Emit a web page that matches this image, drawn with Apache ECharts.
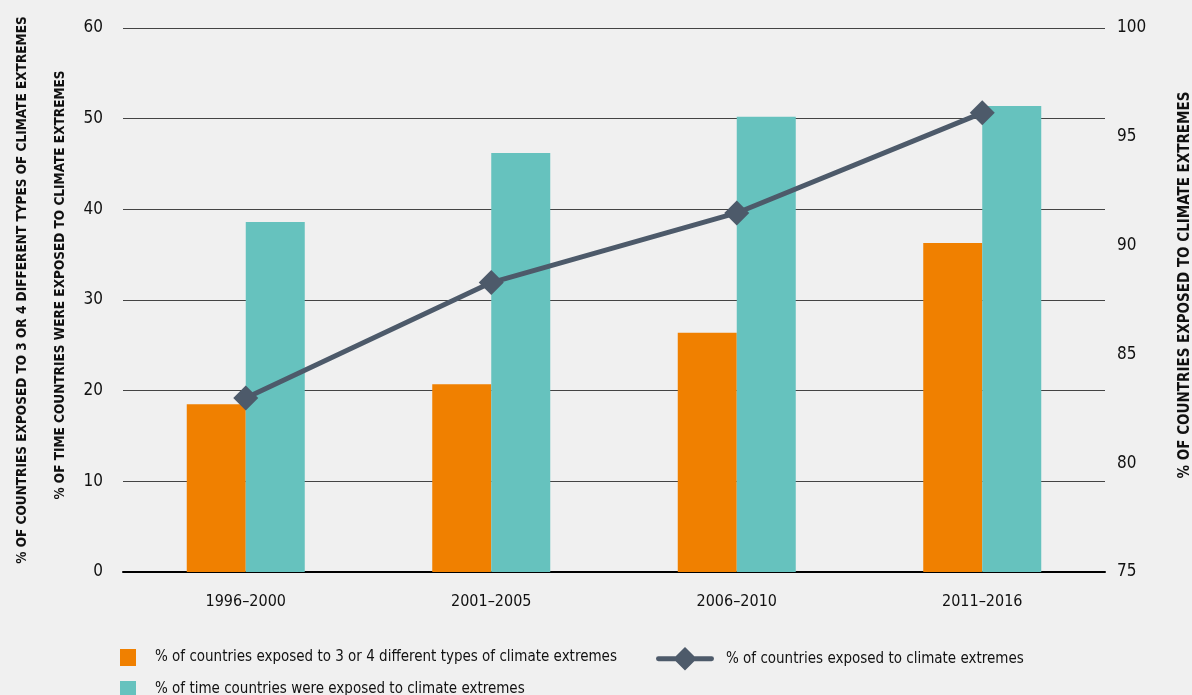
<!DOCTYPE html>
<html><head><meta charset="utf-8">
<script src="https://cdn.jsdelivr.net/npm/echarts@6/dist/echarts.min.js"></script>
<style>html,body{margin:0;padding:0;background:#f0f0f0}#c{width:1192px;height:695px}</style>
</head><body><div id="c"></div>
<script>
const categories = ['1996–2000','2001–2005','2006–2010','2011–2016'];
const threeOrFour = [18.5, 20.7, 26.4, 36.3];
const timeExposed = [38.6, 46.2, 50.2, 51.4];
const countriesExposed = [83.0, 88.3, 91.5, 96.1];
const leftTicks = {min:0, max:60, interval:10};
const rightTicks = {min:75, max:100, interval:5};
const names = ['% of countries exposed to 3 or 4 different types of climate extremes','% of time countries were exposed to climate extremes','% of countries exposed to climate extremes'];
const leftTitle1 = '% OF COUNTRIES EXPOSED TO 3 OR 4 DIFFERENT TYPES OF CLIMATE EXTREMES';
const leftTitle2 = '% OF TIME COUNTRIES WERE EXPOSED TO CLIMATE EXTREMES';
const rightTitle = '% OF COUNTRIES EXPOSED TO CLIMATE EXTREMES';
const FONT = "'Liberation Sans Narrow','DejaVu Sans Condensed','Roboto Condensed',sans-serif";
const lineIcon = 'path://M2,9.5 L56,9.5 A2.5,2.5 0 0 1 56,14.5 L2,14.5 A2.5,2.5 0 0 1 2,9.5 Z M29,0 L41,12 L29,24 L17,12 Z';
const legText = {fontFamily:FONT,fontSize:15,color:'#111'};
const chart = echarts.init(document.getElementById('c'));
chart.setOption({
  backgroundColor:'#f0f0f0',
  textStyle:{fontFamily:FONT},
  grid:{left:123,right:87,top:28,bottom:123,containLabel:false,outerBoundsMode:'none'},
  legend:[
    {data:[{name:names[0],icon:'rect'}],left:115,top:644,itemWidth:16,itemHeight:17,
     textStyle:Object.assign({padding:[0,0,0,14]},legText)},
    {data:[{name:names[1],icon:'rect'}],left:115,top:676,itemWidth:16,itemHeight:17,
     textStyle:Object.assign({padding:[0,0,0,14]},legText)},
    {data:[{name:names[2],icon:lineIcon}],left:651,top:642,itemWidth:58,itemHeight:24,
     textStyle:Object.assign({padding:[0,0,0,7]},legText)}
  ],
  graphic:[
    {type:'text',x:22,y:290,rotation:Math.PI/2,style:{text:leftTitle1,font:"bold 13.5px "+FONT,fill:'#111',align:'center',verticalAlign:'middle'}},
    {type:'text',x:60,y:285,rotation:Math.PI/2,style:{text:leftTitle2,font:"bold 13.5px "+FONT,fill:'#111',align:'center',verticalAlign:'middle'}},
    {type:'text',x:1185,y:285,rotation:Math.PI/2,style:{text:rightTitle,font:"bold 15px "+FONT,fill:'#111',align:'center',verticalAlign:'middle'}}
  ],
  xAxis:{type:'category',data:categories,
    axisLine:{lineStyle:{color:'#000',width:2}},axisTick:{show:false},
    axisLabel:{fontFamily:FONT,fontSize:16,color:'#111',margin:22}},
  yAxis:[
    {type:'value',min:leftTicks.min,max:leftTicks.max,interval:leftTicks.interval,
     axisLine:{show:false},axisTick:{show:false},
     axisLabel:{fontFamily:FONT,fontSize:17,color:'#111',margin:20},
     splitLine:{lineStyle:{color:'#444',width:1}}},
    {type:'value',min:rightTicks.min,max:rightTicks.max,interval:rightTicks.interval,
     axisLine:{show:false},axisTick:{show:false},
     axisLabel:{fontFamily:FONT,fontSize:17,color:'#111',margin:12},
     splitLine:{show:false}}
  ],
  series:[
    {name:names[0],type:'bar',data:threeOrFour,barWidth:59,barGap:'0%',itemStyle:{color:'#f08000'},yAxisIndex:0},
    {name:names[1],type:'bar',data:timeExposed,barWidth:59,barGap:'0%',itemStyle:{color:'#66c2be'},yAxisIndex:0},
    {name:names[2],type:'line',data:countriesExposed,yAxisIndex:1,symbol:'diamond',symbolSize:25,
     lineStyle:{color:'#4d5a6a',width:5},itemStyle:{color:'#4d5a6a'},z:5}
  ]
});
</script></body></html>
